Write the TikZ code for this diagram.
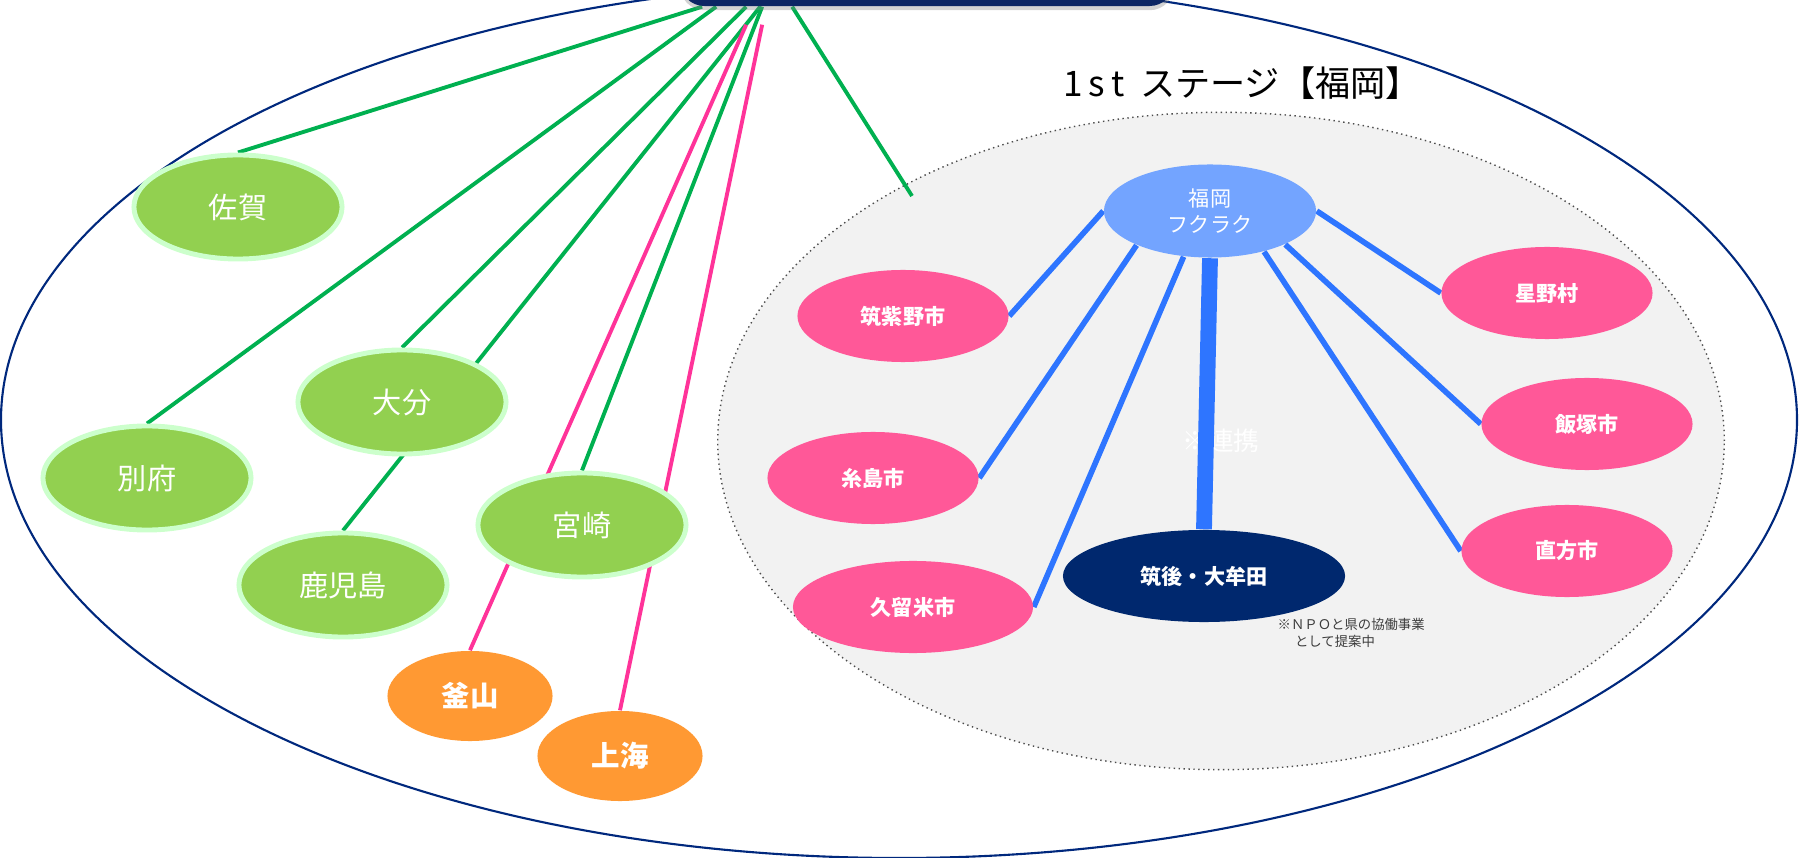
\documentclass[tikz,border=0pt]{standalone}
\usepackage{fontspec}
\setmainfont{Noto Sans CJK JP}
\usepackage{tikz}
\usetikzlibrary{shapes.geometric,calc,backgrounds,shadows}
\definecolor{colorhub}     {RGB}{12,38,100}
\definecolor{colorring}    {RGB}{0,40,125}
\definecolor{colorcity}    {RGB}{146,208,80}
\definecolor{colorglow}    {RGB}{204,255,204}
\definecolor{colorport}    {RGB}{255,153,51}
\definecolor{colortown}    {RGB}{255,88,152}
\definecolor{colorcore}    {RGB}{115,164,255}
\definecolor{colorpartner} {RGB}{0,40,110}
\definecolor{colorstage}   {RGB}{242,242,242}
\definecolor{colorgreen}   {RGB}{0,176,80}
\definecolor{colorpink}    {RGB}{255,51,153}
\definecolor{colorblue}    {RGB}{46,117,255}
\definecolor{colornote}    {RGB}{60,60,60}

\begin{document}
\begin{tikzpicture}[
    x=0.01cm, y=-0.01cm,
    hubbox/.style={rectangle,rounded corners=7pt,fill=colorhub,minimum width=4.94cm,minimum height=0.9cm,drop shadow={shadow xshift=0pt,shadow yshift=-1.2pt,opacity=0.35}},
    city/.style={ellipse,fill=colorcity,draw=colorglow,line width=1.4pt,text=white,inner sep=0pt,minimum width=2.08cm,minimum height=1.04cm,font={\fontsize{8.3}{10}\selectfont}},
    port/.style={ellipse,fill=colorport,text=white,inner sep=0pt,minimum width=1.65cm,minimum height=0.9cm,font={\fontsize{8.1}{10}\selectfont\bfseries}},
    town/.style={ellipse,fill=colortown,text=white,inner sep=0pt,minimum width=2.11cm,minimum height=0.92cm,font={\fontsize{6}{7}\selectfont\bfseries},align=center},
    greenline/.style={draw=colorgreen,line width=1.1pt},
    pinkline/.style={draw=colorpink,line width=1.1pt},
    blueline/.style={draw=colorblue,line width=1.6pt},
]
    \useasboundingbox (0,0) rectangle (1806,858);
    \clip (0,0) rectangle (1806,858);

    % Hub
    \node[hubbox] (hub) at (927,-39) {};

    % Cities
    \node[city] (saga)      at (238,207) {佐賀};
    \node[city] (beppu)     at (147,478) {別府};
    \node[city] (oita)      at (402,402) {大分};
    \node[city] (kagoshima) at (343,585) {鹿児島};
    \node[city] (miyazaki)  at (582,525) {宮崎};

    % Ports
    \node[port] (busan)    at (470,696) {釜山};
    \node[port] (shanghai) at (620,756) {上海};

    % 1st stage
    \node[font={\fontsize{10}{12}\selectfont}] (title) at (1242,83) {1\,s\,t\ \ ステージ【福岡】};

    \node[town,fill=colorcore,minimum width=2.12cm,minimum height=0.93cm,font={\fontsize{6}{7.6}\selectfont}] (fuku) at (1210,211) {福岡\\フクラク};
    \node[town] (chikushino) at (903,316) {筑紫野市};
    \node[town] (itoshima)   at (873,478) {糸島市};
    \node[town,minimum width=2.40cm] (kurume) at (913,607) {久留米市};
    \node[town,fill=colorpartner,minimum width=2.82cm] (chikugo) at (1204,576) {筑後・大牟田};
    \node[town] (hoshino)    at (1547,293) {星野村};
    \node[town] (iizuka)     at (1587,424) {飯塚市};
    \node[town] (nogata)     at (1567,551) {直方市};

    \node[anchor=north west,align=left,text=colornote,inner sep=0pt,font={\fontsize{3.8}{4.8}\selectfont}] (note) at (1277,618) {※ＮＰＯと県の協働事業\\\hspace{1.3em}として提案中};

    \coordinate (stagetip) at (912,196);

    \begin{scope}[on background layer]
        \draw[colorring,line width=0.6pt] (899,420) ellipse [x radius=898, y radius=438];
        \node[ellipse,fill=colorstage,draw=black!70,densely dotted,line width=0.4pt,minimum width=10.06cm,minimum height=6.57cm] (stage) at (1221,441) {};
        \node[text=white,font={\fontsize{7.3}{9}\selectfont}] (renkei) at (1221,441) {※連携};

        % Relations to the hub
        \draw[greenline] ($(hub.south west)+(23,0)$)  -- (saga.north);
        \draw[greenline] ($(hub.south west)+(37,0)$)  -- (beppu.north);
        \draw[greenline] ($(hub.south west)+(67,0)$)  -- (oita.north);
        \draw[greenline] ($(hub.south west)+(81,0)$)  -- (kagoshima.north);
        \draw[greenline] ($(hub.south west)+(83,0)$)  -- (miyazaki.north);
        \draw[greenline] ($(hub.south west)+(113,0)$) -- (stagetip);
        \draw[pinkline]  ($(hub.south west)+(67,18)$) -- (busan.north);
        \draw[pinkline]  ($(hub.south west)+(83,18)$) -- (shanghai.north);

        % Relations inside the stage
        \draw[blueline] (fuku.west) -- (chikushino.east);
        \draw[blueline] (fuku.205)  -- (itoshima.east);
        \draw[blueline] (fuku.240)  -- (kurume.east);
        \draw[blueline,line width=4.5pt] (fuku.south) -- (chikugo.north);
        \draw[blueline] (fuku.323)  -- (nogata.west);
        \draw[blueline] (fuku.336)  -- (iizuka.west);
        \draw[blueline] (fuku.east) -- (hoshino.west);
    \end{scope}

\end{tikzpicture}
\end{document}
